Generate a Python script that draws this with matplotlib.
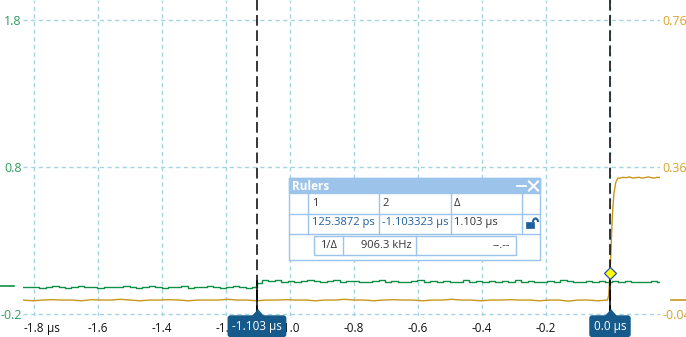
import numpy as np
import matplotlib
matplotlib.use("Agg")
import matplotlib.pyplot as plt
from matplotlib.patches import Rectangle, Arc
from matplotlib.lines import Line2D

plt.rcParams['font.family'] = ['Open Sans', 'DejaVu Sans']

# ---- data (time in µs) ----
x_ticks = [-1.8, -1.6, -1.4, -1.2, -1.0, -0.8, -0.6, -0.4, -0.2, 0.0]
x_labels = ['-1.8', '-1.6', '-1.4', '-1.2', '-1.0', '-0.8', '-0.6', '-0.4', '-0.2', '0.0']
left_ticks = [-0.2, 0.8, 1.8]
left_labels = ['-0.2', '0.8', '1.8']
right_ticks = [-0.04, 0.36, 0.76]
right_labels = ['-0.04', '0.36', '0.76']

cursor1 = -1.103
cursor2 = 0.0
cursor_labels = ['-1.103 µs', '0.0 µs']

# channel A (green, left axis)
green_pre = [-0.014, -0.018, -0.016, -0.022, -0.016, -0.012, -0.016, -0.021, -0.016, -0.010,
             -0.016, -0.018, -0.022, -0.014, -0.016, -0.018, -0.010, -0.016, -0.021, -0.016,
             -0.012, -0.016, -0.022, -0.016, -0.018, -0.012, -0.021, -0.016, -0.018, -0.010,
             -0.016, -0.021, -0.016, -0.008, -0.014, -0.020, -0.016]
green_post = [0.012, 0.028, 0.024, 0.030, 0.020, 0.024, 0.017, 0.027, 0.031, 0.024,
              0.019, 0.024, 0.028, 0.020, 0.024, 0.025, 0.016, 0.021, 0.024, 0.028,
              0.020, 0.024, 0.021, 0.016, 0.024, 0.028, 0.020, 0.024, 0.021, 0.025,
              0.017, 0.021, 0.028, 0.020, 0.024, 0.021, 0.025, 0.016, 0.024, 0.020,
              0.028, 0.021, 0.024, 0.020, 0.017, 0.024, 0.021, 0.028, 0.024, 0.020,
              0.021, 0.025, 0.017, 0.024, 0.021, 0.025, 0.020, 0.024, 0.021, 0.017,
              0.021, 0.024, 0.021]

# channel B (yellow, right axis)
yellow_pre = [-0.002, -0.004, -0.002, -0.001, -0.002, -0.002, -0.004, -0.001, -0.002, -0.002,
              0.000, -0.002, -0.004, -0.002, -0.002, -0.001, -0.002, -0.004, -0.002, -0.002,
              -0.002, 0.000, -0.002, -0.002, -0.004, -0.002, -0.002, -0.001, -0.002, -0.002,
              -0.004, -0.002, -0.002, 0.000, -0.002, -0.002, -0.004, -0.002, -0.001, -0.002,
              -0.002, -0.004, -0.002, -0.002, 0.000, -0.002, -0.002, -0.004, -0.002, -0.002,
              -0.001, -0.002, -0.002, -0.004, -0.002, -0.002, -0.005, -0.002, -0.002, -0.004,
              -0.002]
rise_t = [-0.004, 0.0, 0.003, 0.006, 0.009, 0.0125, 0.018, 0.024]
rise_v = [0.010, 0.072, 0.130, 0.200, 0.250, 0.289, 0.318, 0.329]
yellow_post = [0.330, 0.332, 0.331, 0.333, 0.330, 0.331, 0.332, 0.330, 0.331, 0.333,
               0.331, 0.330, 0.332, 0.331]

t_green_pre = np.linspace(-1.834, -1.108, len(green_pre))
t_green_post = np.linspace(-1.098, 0.158, len(green_post))
t_yellow_pre = np.linspace(-1.834, -0.008, len(yellow_pre))
t_yellow_post = np.linspace(0.032, 0.158, len(yellow_post))

GREEN = '#0e8f45'
GREEN_TXT = '#2e9e5b'
YELLOW = '#c8961a'
YELLOW_TXT = '#d6a32c'
GRID = '#a4d4e2'
NAVY = '#165a8c'
PANEL = '#9cc4ea'
BLUE_TXT = '#1f5f9f'
DARK = '#333333'

W, H = 686, 337
fig = plt.figure(figsize=(W / 100, H / 100), dpi=100)
ax = fig.add_axes([23 / W, 21 / H, 637 / W, 316 / H])
ax2 = ax.twinx()

ax.set_xlim(-1.834, 0.15625)
ax.set_ylim(-0.2136, 1.936)
ax2.set_ylim(-0.0454, 0.8144)

for a in (ax, ax2):
    for s in a.spines.values():
        s.set_visible(False)

ax.set_xticks(x_ticks, labels=x_labels)
ax.set_yticks(left_ticks, labels=left_labels)
ax2.set_yticks(right_ticks, labels=right_labels)
ax.tick_params(axis='x', length=0, pad=4, labelsize=8.5, labelcolor='#111111')
ax.tick_params(axis='y', length=0, pad=1, labelsize=9, labelcolor=GREEN_TXT)
ax2.tick_params(axis='y', length=0, pad=1.5, labelsize=9, labelcolor=YELLOW_TXT)
ax.grid(True, color=GRID, linestyle=(0, (3, 2.5)), linewidth=1)

# unit after first tick label
ax.annotate(' µs', xy=(1, 0.5), xycoords=ax.get_xticklabels()[0],
            ha='left', va='center', fontsize=8.5, color='#111111')

# traces
ax.plot(t_green_pre, green_pre, color=GREEN, lw=1, drawstyle='steps-mid')
ax.plot(np.r_[t_green_pre[-1:], t_green_post], np.r_[green_pre[-1:], green_post],
        color=GREEN, lw=1, drawstyle='steps-mid')
t_y = np.r_[t_yellow_pre, rise_t, t_yellow_post]
v_y = np.r_[yellow_pre, rise_v, yellow_post]
ax2.plot(t_y, v_y, color=YELLOW, lw=1)

# channel offset markers outside the plot
ax.plot([-23 / 637, -9 / 637], [-0.0095, -0.0095], transform=ax.get_yaxis_transform(),
        color=GREEN, lw=1.2, clip_on=False)
ax2.plot([1 + 11 / 637, 1 + 26 / 637], [-0.002, -0.002], transform=ax2.get_yaxis_transform(),
         color=YELLOW, lw=1.2, clip_on=False)

# cursors
xt = ax2.get_xaxis_transform()
tri = [(-6, 0), (6, 0), (0, 7)]
for c, lab in zip([cursor1, cursor2], cursor_labels):
    ax2.axvline(c, color='black', lw=1.1, linestyle=(0, (7, 3)), zorder=4)
    ax2.plot([c, c], [0, 0.11], transform=xt, color='black', lw=1.1, zorder=4)
    ax2.plot([c], [0], transform=xt, marker=tri, ms=10, color=NAVY, clip_on=False, zorder=6)
    ax2.annotate(lab, xy=(c, 0), xycoords=xt, xytext=(0, -7.4), textcoords='offset points',
                 ha='center', va='center', fontsize=8.5, color='white', zorder=7,
                 annotation_clip=False,
                 bbox=dict(boxstyle='round,pad=0.38,rounding_size=0.25', fc=NAVY, ec='none'))

ax2.plot([cursor2], [rise_v[1]], marker='D', ms=6.5, mfc='#ffff00', mec='#2a4fc0',
         mew=0.9, zorder=8)

# ---- rulers panel (figure pixel coordinates) ----
def fx(x):
    return x / W


def fy(y):
    return 1 - y / H


def rect(x0, y0, x1, y1, **kw):
    fig.add_artist(Rectangle((fx(x0), fy(y1)), (x1 - x0) / W, (y1 - y0) / H,
                             transform=fig.transFigure, **kw))


def line(x0, y0, x1, y1, color=PANEL, lw=1, z=11):
    fig.add_artist(Line2D([fx(x0), fx(x1)], [fy(y0), fy(y1)], transform=fig.transFigure,
                          color=color, lw=lw, zorder=z))


def txt(x, y, s, ha='left', color=DARK, size=8, weight='normal'):
    fig.text(fx(x), fy(y), s, ha=ha, va='center', color=color, fontsize=size,
             fontweight=weight, zorder=12)


rect(288.5, 178, 540, 260, fc='white', ec=PANEL, lw=1, zorder=10)
rect(288.5, 178, 540, 193, fc=PANEL, ec=PANEL, lw=1, zorder=10.5)
txt(292, 186, 'Rulers', color='white', size=8.5, weight='bold')
line(517, 186, 526, 186, color='white', lw=1.3)
line(529, 181.5, 538, 190.5, color='white', lw=1.5)
line(529, 190.5, 538, 181.5, color='white', lw=1.5)

line(288.5, 213.7, 540, 213.7)
line(288.5, 233.7, 540, 233.7)
for xv in [308.3, 379.3, 450.7, 521.7]:
    line(xv, 193, xv, 233.7)
rect(314.3, 236, 516, 255, fc='none', ec=PANEL, lw=1, zorder=11)
line(343.3, 236, 343.3, 255)
line(416, 236, 416, 255)

txt(312, 203.5, '1')
txt(382.5, 203.5, '2')
txt(454, 203.5, 'Δ')
txt(311.5, 223, '125.3872 ps', color=BLUE_TXT)
txt(381.5, 223, '-1.103323 µs', color=BLUE_TXT)
txt(454, 223, '1.103 µs')
txt(320, 246, '1/Δ')
txt(411.5, 246, '906.3 kHz', ha='right')
txt(510, 246, '--.--', ha='right')

# lock icon
rect(526, 222, 533.5, 228, fc=BLUE_TXT, ec=BLUE_TXT, lw=0.5, zorder=12)
fig.add_artist(Arc((fx(535.5), fy(222)), 5 / W, 7 / H, theta1=0, theta2=180,
                   transform=fig.transFigure, color=BLUE_TXT, lw=1.5, zorder=12))

fig.savefig('out.png', dpi=100)
